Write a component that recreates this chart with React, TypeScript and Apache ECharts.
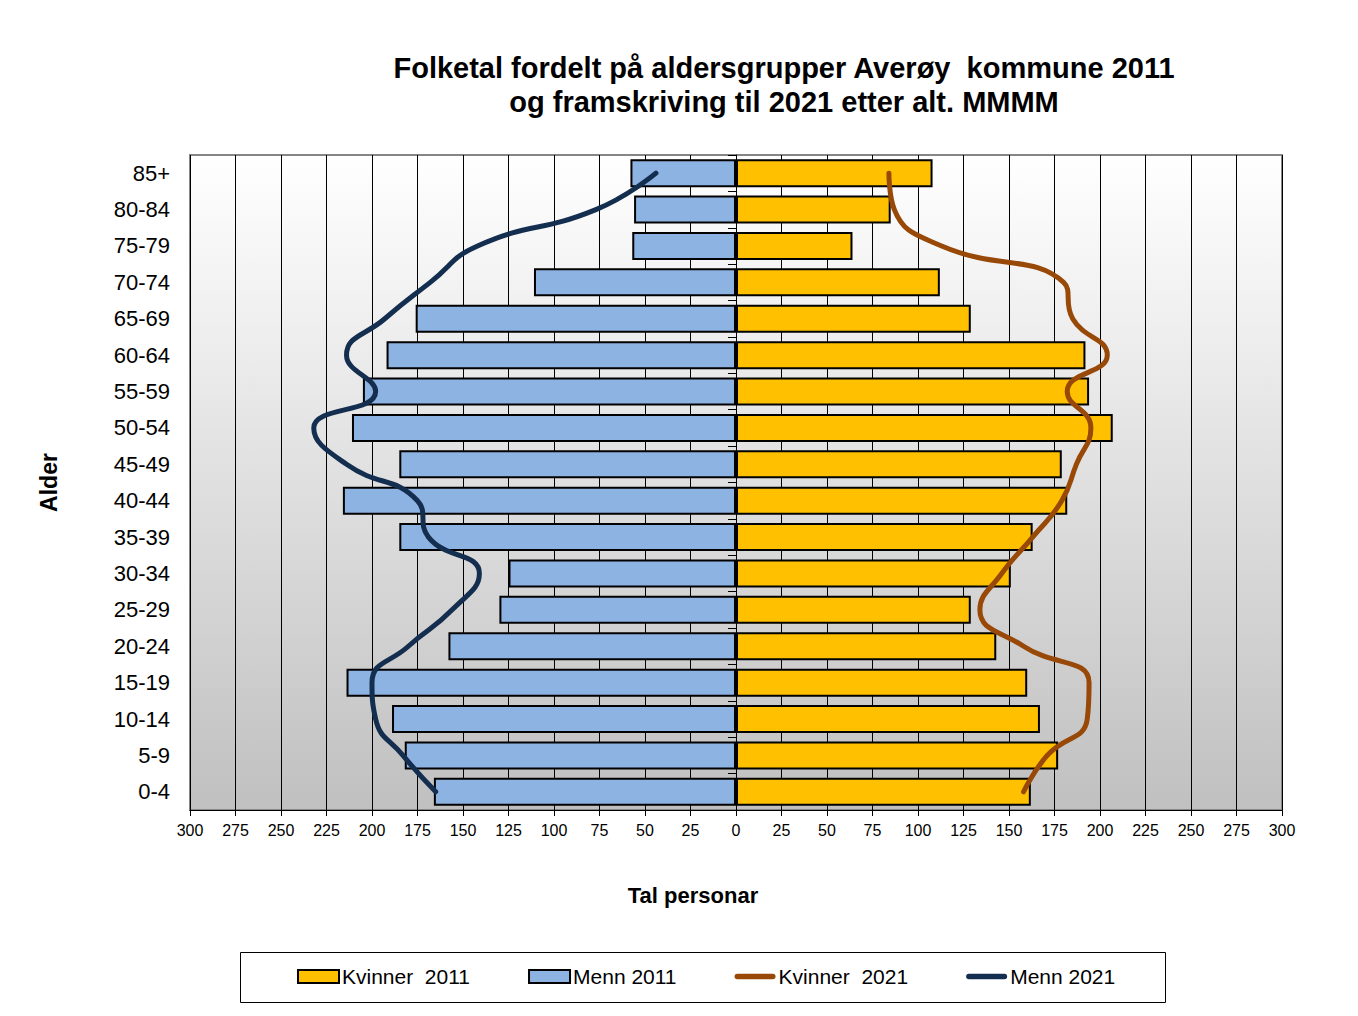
import React, { useEffect, useRef } from "react";
import * as echarts from "echarts";

const categories = ["0-4", "5-9", "10-14", "15-19", "20-24", "25-29", "30-34", "35-39", "40-44", "45-49", "50-54", "55-59", "60-64", "65-69", "70-74", "75-79", "80-84", "85+"];
const kvinner2011 = [162, 177, 167, 160, 143, 129, 151, 163, 182, 179, 207, 194, 192, 129, 112, 64, 85, 108];
const menn2011 = [166, 182, 189, 214, 158, 130, 125, 185, 216, 185, 211, 205, 192, 176, 111, 57, 56, 58];
const kvinner2021 = [158, 171, 193, 194, 158, 134, 146, 163, 179, 187, 195, 182, 204, 185, 180, 113, 87, 84];
const menn2021 = [165, 183, 198, 200, 180, 156, 141, 169, 175, 214, 232, 198, 214, 193, 168, 142, 77, 44];

const titleLines = ["Folketal fordelt på aldersgrupper Averøy  kommune 2011", "og framskriving til 2021 etter alt. MMMM"];
const xMin = -300;
const xMax = 300;
const xStep = 25;

const FONT = "'Liberation Sans', Arial, sans-serif";
const LINE_ICON = "path://M3,0 H42 A3,3 0 0 1 42,6 H3 A3,3 0 0 1 3,0 Z";

export default function App() {
  const ref = useRef<HTMLDivElement>(null);
  useEffect(() => {
    if (!ref.current) return;
    const chart = echarts.init(ref.current, null, { renderer: "svg" });
    chart.setOption({
      animation: false,
      backgroundColor: "#ffffff",
      textStyle: { fontFamily: FONT },
      title: {
        text: titleLines.join("\n"),
        left: 779,
        top: 46,
        textAlign: "center",
        textStyle: { fontSize: 29, fontWeight: "bold", lineHeight: 34, color: "#000", fontFamily: FONT },
      },
      graphic: [
        {
          type: "rect",
          shape: { x: 240.5, y: 952.5, width: 925, height: 50 },
          style: { fill: "#fff", stroke: "#000", lineWidth: 1 },
          z: -1,
        },
      ],
      legend: {
        data: [
          { name: "Kvinner  2011", icon: "rect" },
          { name: "Menn 2011", icon: "rect" },
          { name: "Kvinner  2021", icon: LINE_ICON },
          { name: "Menn 2021", icon: LINE_ICON },
        ],
        left: 297,
        top: 966,
        itemWidth: 41,
        itemHeight: 13,
        itemGap: 58,
        padding: 0,
        textStyle: { fontSize: 21, color: "#000", fontFamily: FONT, padding: [0, 0, 0, -2] },
      },
      grid: {
        left: 190,
        top: 155,
        width: 1092,
        height: 655,
        show: true,
        borderColor: "#868686",
        borderWidth: 2,
        backgroundColor: {
          type: "linear",
          x: 0, y: 0, x2: 0, y2: 1,
          colorStops: [
            { offset: 0, color: "#ffffff" },
            { offset: 1, color: "#c0c0c0" },
          ],
        },
      },
      xAxis: {
        type: "value",
        min: xMin,
        max: xMax,
        interval: xStep,
        name: "Tal personar",
        nameLocation: "middle",
        nameGap: 74,
        nameTextStyle: { fontSize: 22, fontWeight: "bold", color: "#000", fontFamily: FONT, padding: [0, 86, 0, 0] },
        axisLine: { show: true, lineStyle: { color: "#000", width: 1 } },
        axisTick: { show: true, length: 6, lineStyle: { color: "#000" } },
        axisLabel: {
          fontSize: 16,
          color: "#000",
          margin: 12,
          formatter: (v: number) => String(Math.abs(v)),
        },
        splitLine: { show: true, lineStyle: { color: "#000", width: 1 } },
      },
      yAxis: [
        {
          type: "category",
          data: categories,
          position: "left",
          name: "Alder",
          nameLocation: "middle",
          nameRotate: 90,
          nameGap: 130,
          nameTextStyle: { fontSize: 23, fontWeight: "bold", color: "#000", fontFamily: FONT },
          axisLine: { show: false, onZero: false },
          axisTick: { show: false },
          axisLabel: { fontSize: 22, color: "#000", margin: 20 },
          splitLine: { show: false },
        },
        {
          type: "category",
          data: categories,
          position: "left",
          axisLine: { show: true, onZero: true, lineStyle: { color: "#000", width: 1 } },
          axisTick: { show: true, length: 8, inside: false, lineStyle: { color: "#000" } },
          axisLabel: { show: false },
          splitLine: { show: false },
        },
      ],
      series: [
        {
          name: "Kvinner  2011",
          type: "bar",
          stack: "pop",
          barWidth: 28,
          data: kvinner2011,
          itemStyle: { color: "#FFC000", borderColor: "#000", borderWidth: 2 },
        },
        {
          name: "Menn 2011",
          type: "bar",
          stack: "pop",
          barWidth: 28,
          data: menn2011.map((v) => -v),
          itemStyle: { color: "#8DB3E2", borderColor: "#000", borderWidth: 2 },
        },
        {
          name: "Kvinner  2021",
          type: "line",
          smooth: 0.5,
          symbol: "none",
          data: kvinner2021,
          lineStyle: { color: "#984807", width: 5, cap: "round" },
          itemStyle: { color: "#984807" },
          z: 5,
        },
        {
          name: "Menn 2021",
          type: "line",
          smooth: 0.5,
          symbol: "none",
          data: menn2021.map((v) => -v),
          lineStyle: { color: "#142E50", width: 5, cap: "round" },
          itemStyle: { color: "#142E50" },
          z: 5,
        },
      ],
    });
    return () => chart.dispose();
  }, []);
  return <div ref={ref} style={{ position: "fixed", left: 0, top: 0, width: 1358, height: 1016 }} />;
}
